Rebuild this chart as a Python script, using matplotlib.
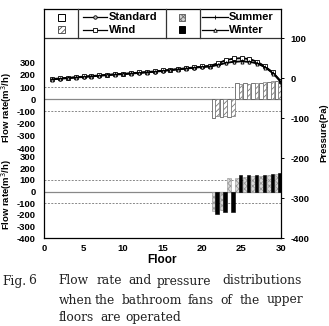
import matplotlib
matplotlib.use("Agg")
import matplotlib.pyplot as plt
from matplotlib.patches import Rectangle
from matplotlib.lines import Line2D

plt.rcParams['font.family'] = ['Liberation Sans', 'DejaVu Sans']
plt.rcParams['hatch.linewidth'] = 0.6

# ---------------- data ----------------
floors = list(range(1, 31))
p_standard = [-3, -1.5, 0, 1.5, 3, 4.5, 6, 7.5, 9, 10, 11.5, 13, 14.5, 16, 18,
              20, 22, 24, 26, 28, 30, 36, 44, 48, 49, 47, 40, 28, 13, -9]
p_wind = [-2, -0.5, 1, 2.5, 4, 5.5, 7, 8.5, 10, 11, 12.5, 14, 15.5, 17, 19,
          21, 23, 25, 27, 29, 31, 37, 45, 49, 50, 48, 41, 29, 14, -8]
p_summer = [-3, -1.5, 0, 1.5, 3, 4.5, 6, 7.5, 9, 10, 11.5, 13, 14.5, 16, 18,
            20, 22, 24, 26, 28, 29, 33, 38, 41, 42, 41, 37, 27, 12, -10]
p_winter = [-4, -2.5, -1, 0.5, 2, 3.5, 5, 6.5, 8, 9, 10.5, 12, 13.5, 15, 17,
            19, 21, 23, 25, 27, 28, 32, 37, 40, 41, 40, 36, 26, 11, -11]

bar_floors = [22, 23, 24, 25, 26, 27, 28, 29, 30]
f_standard = [-150, -145, -145, 130, 130, 130, 135, 145, 150]
f_wind = [-140, -140, -140, 128, 128, 132, 138, 148, 152]
f_summer = [-165, -160, 118, 115, 125, 130, 135, 140, 150]
f_winter = [-195, -180, -180, 140, 145, 145, 145, 150, 160]

flow_ticks = [300, 200, 100, 0, -100, -200, -300, -400]
p_ticks = [100, 0, -100, -200, -300, -400]
x_ticks = [0, 5, 10, 15, 20, 25, 30]

W, H = 329, 326
fig = plt.figure(figsize=(W / 100, H / 100), dpi=100)
fig.patch.set_facecolor('white')


def frac(x0, y0, x1, y1):
    return [x0 / W, 1 - y1 / H, (x1 - x0) / W, (y1 - y0) / H]


BOX_L, BOX_R, BOX_T, BOX_B = 44, 281, 9, 238
BW = BOX_R - BOX_L
tick_fs = 6.8

# ---------------- flow axes ----------------
def flow_axes(y_top, y_bot, left_data, right_data, left_style, right_style, label_y):
    ax = fig.add_axes(frac(BOX_L, y_top, BOX_R, y_bot), zorder=1)
    ax.patch.set_visible(False)
    for s in ax.spines.values():
        s.set_visible(False)
    ax.set_xlim(0, 30)
    ax.set_ylim(-400, 300)
    ax.set_xticks([])
    ax.set_yticks(flow_ticks)
    ax.set_yticklabels([str(t) for t in flow_ticks], fontsize=tick_fs, fontweight='bold')
    ax.tick_params(axis='y', length=0, pad=6)
    ax.axhline(0, color='#888888', lw=0.9, zorder=1)
    ax.axhline(100, color='#888888', lw=0.7, ls=(0, (2, 1.5)), zorder=1)
    ax.axhline(-100, color='#888888', lw=0.7, ls=(0, (2, 1.5)), zorder=1)
    xs_l = [f - 0.55 for f in bar_floors]
    xs_r = [f - 0.1 for f in bar_floors]
    ax.bar(xs_l, left_data, width=0.45, zorder=2, **left_style)
    ax.bar(xs_r, right_data, width=0.45, zorder=2, **right_style)
    ax.set_ylabel('Flow rate(m$^3$/h)', fontsize=6.8, fontweight='bold')
    ax.yaxis.set_label_coords(-30 / BW, label_y)
    return ax

style_standard = dict(facecolor='white', edgecolor='#444444', linewidth=0.5)
style_wind = dict(facecolor='white', edgecolor='#777777', linewidth=0.5, hatch='//////')
style_summer = dict(facecolor='#d8d8d8', edgecolor='#999999', linewidth=0.4, hatch='xxxxxx')
style_winter = dict(facecolor='black', edgecolor='black', linewidth=0.4)

ax1 = flow_axes(62.7, 148, f_standard, f_wind, style_standard, style_wind, 0.48)
ax2 = flow_axes(156.7, BOX_B, f_summer, f_winter, style_summer, style_winter, 0.53)

# ---------------- pressure (main) axes ----------------
ax = fig.add_axes(frac(BOX_L, BOX_T, BOX_R, BOX_B), zorder=3)
ax.patch.set_visible(False)
ax.set_xlim(0, 30)
ax.set_ylim(-400, 172.5)
for s in ax.spines.values():
    s.set_linewidth(0.9)
ax.yaxis.tick_right()
ax.yaxis.set_label_position('right')
ax.set_yticks(p_ticks)
ax.set_yticklabels([str(t) for t in p_ticks], fontsize=tick_fs, fontweight='bold')
ax.tick_params(axis='y', direction='out', length=2, width=0.7, pad=5)
ax.set_xticks(x_ticks)
ax.set_xticklabels([str(t) for t in x_ticks], fontsize=tick_fs, fontweight='bold')
ax.tick_params(axis='x', length=0, pad=4)
ax.set_xlabel('Floor', fontsize=8.5, fontweight='bold', labelpad=1)
ax.set_ylabel('Pressure(Pa)', fontsize=6.8, fontweight='bold', rotation=90)
ax.yaxis.set_label_coords(1 + 38 / BW, 0.46)
ax.axhline(100, color='#333333', lw=0.9)

lkw = dict(color='black', lw=1.0, markersize=2.2, markeredgewidth=0.6)
ax.plot(floors, p_standard, marker='o', mfc='#bbbbbb', mec='black', **lkw)
ax.plot(floors, p_wind, marker='s', mfc='white', mec='black', **lkw)
ax.plot(floors, p_summer, marker='+', mec='black', **lkw)
ax.plot(floors, p_winter, marker='^', mfc='white', mec='black', **lkw)

# ---------------- legend table & caption (pixel overlay) ----------------
ov = fig.add_axes([0, 0, 1, 1], zorder=5)
ov.set_xlim(0, W)
ov.set_ylim(H, 0)
ov.axis('off')
for x in (78, 166, 200):
    ov.add_line(Line2D([x, x], [BOX_T, 38], color='#333333', lw=0.9))

sq = 6.5
def square(cx, cy, **kw):
    ov.add_patch(Rectangle((cx - sq / 2, cy - sq / 2), sq, sq, **kw))

square(61.5, 17.3, facecolor='white', edgecolor='black', linewidth=0.7)
square(61.5, 29.7, facecolor='white', edgecolor='#555555', linewidth=0.7, hatch='//////')
square(182, 17.3, facecolor='#d0d0d0', edgecolor='#666666', linewidth=0.7, hatch='xxxxxx')
square(182, 29.7, facecolor='black', edgecolor='black', linewidth=0.7)

def leg_line(x0, x1, y, marker, mfc):
    ov.add_line(Line2D([x0, x1], [y, y], color='black', lw=0.9))
    ov.add_line(Line2D([(x0 + x1) / 2], [y], marker=marker, markersize=2.5,
                       mfc=mfc, mec='black', mew=0.6, ls='none'))

leg_fs = 8
leg_line(83, 107, 17.3, 'o', '#bbbbbb')
leg_line(83, 107, 29.7, 's', 'white')
leg_line(202, 228, 17.3, '+', 'black')
leg_line(202, 228, 29.7, '^', 'white')
ov.text(109, 17.3, 'Standard', fontsize=leg_fs, fontweight='bold', va='center', ha='left')
ov.text(109, 29.7, 'Wind', fontsize=leg_fs, fontweight='bold', va='center', ha='left')
ov.text(229, 17.3, 'Summer', fontsize=leg_fs, fontweight='bold', va='center', ha='left')
ov.text(229, 29.7, 'Winter', fontsize=leg_fs, fontweight='bold', va='center', ha='left')

cap_fs = 8.8
cap_kw = dict(fontsize=cap_fs, family=['DejaVu Serif'], va='center', ha='left', color='#222222')
line1 = [(2, 'Fig.'), (28, '6'), (58, 'Flow'), (97, 'rate'), (128, 'and'), (157, 'pressure'), (222, 'distributions')]
line2 = [(59, 'when'), (95, 'the'), (122, 'bathroom'), (188, 'fans'), (220, 'of'), (240, 'the'), (267, 'upper')]
line3 = [(59, 'floors'), (100, 'are'), (125, 'operated')]
for y, words in ((281, line1), (300, line2), (317.5, line3)):
    for x, w in words:
        ov.text(x, y, w, **cap_kw)

fig.savefig('out.png', dpi=100, facecolor='white')
